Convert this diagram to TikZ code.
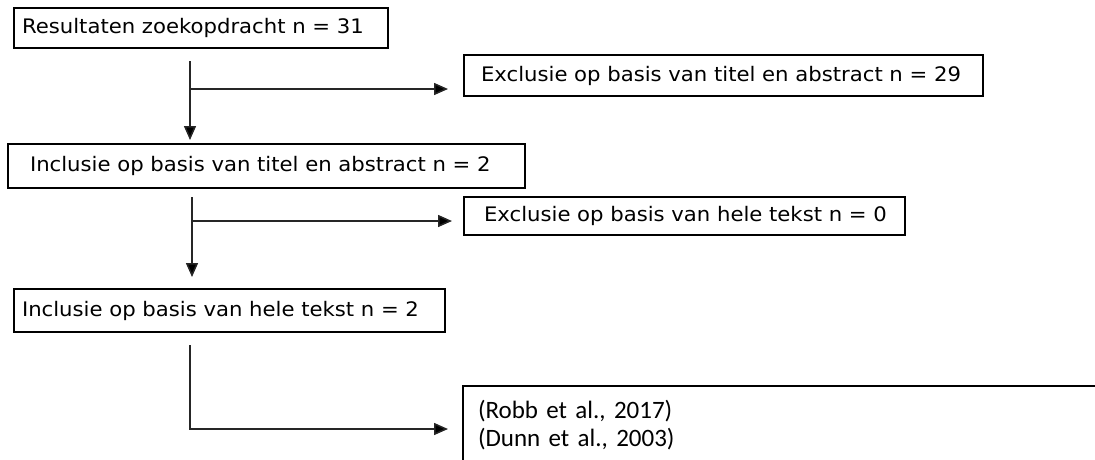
\documentclass[tikz,border=0pt]{standalone}
\usepackage{fontspec}
\setmainfont[FakeStretch=1.06]{DejaVu Sans}
\newfontfamily\citefont{Carlito}
\usetikzlibrary{arrows.meta}
\begin{document}
\begin{tikzpicture}[x=1pt,y=-1pt,
  box/.style={draw, line width=2.8pt, outer sep=0pt, anchor=north west,
    align=left, inner ysep=0pt, text=black,
    font=\fontsize{20}{24}\selectfont},
  conn/.style={line width=1.5pt, draw=black!85,
    -{Triangle[length=14pt,width=12pt,fill=black]}}]
\useasboundingbox (0,0) rectangle (1095,459);
\clip (0,0) rectangle (1095,459);
\fill[white] (0,0) rectangle (1095,459);

\node[box, inner xsep=8pt, text width=358pt, minimum height=40pt] (res) at (14,8)
  {\mbox{Resultaten zoekopdracht n = 31}};
\node[box, inner xsep=17pt, text width=485pt, minimum height=41pt] (ex1) at (464,55)
  {\mbox{Exclusie op basis van titel en abstract n = 29}};
\node[box, inner xsep=22pt, text width=473pt, minimum height=44pt] (in1) at (8,144)
  {\mbox{Inclusie op basis van titel en abstract n = 2}};
\node[box, inner xsep=20pt, text width=401pt, minimum height=38pt] (ex2) at (464,197)
  {\mbox{Exclusie op basis van hele tekst n = 0}};
\node[box, inner xsep=8pt, text width=415pt, minimum height=43pt] (in2) at (14,289)
  {\mbox{Inclusie op basis van hele tekst n = 2}};
\node[box, inner xsep=15pt, text width=670pt, minimum height=79pt,
  font=\citefont\fontsize{25}{28}\selectfont] (refs) at (463,386)
  {(Robb et al., 2017)\\(Dunn et al., 2003)};

\coordinate (s1) at (190,61);
\coordinate (k1) at (190,89);
\coordinate (s2) at (192,197);
\coordinate (k2) at (192,221);
\coordinate (s3) at (190,345);
\coordinate (k3) at (190,429);

\draw[conn, shorten >=4pt] (s1) -- (s1 |- in1.north);
\draw[conn, shorten >=16pt] (k1) -- (k1 -| ex1.west);
\draw[conn, shorten >=12pt] (s2) -- (s2 |- in2.north);
\draw[conn, shorten >=12pt] (k2) -- (k2 -| ex2.west);
\draw[conn, shorten >=15pt] (s3) -- (k3) -- (k3 -| refs.west);
\end{tikzpicture}
\end{document}
